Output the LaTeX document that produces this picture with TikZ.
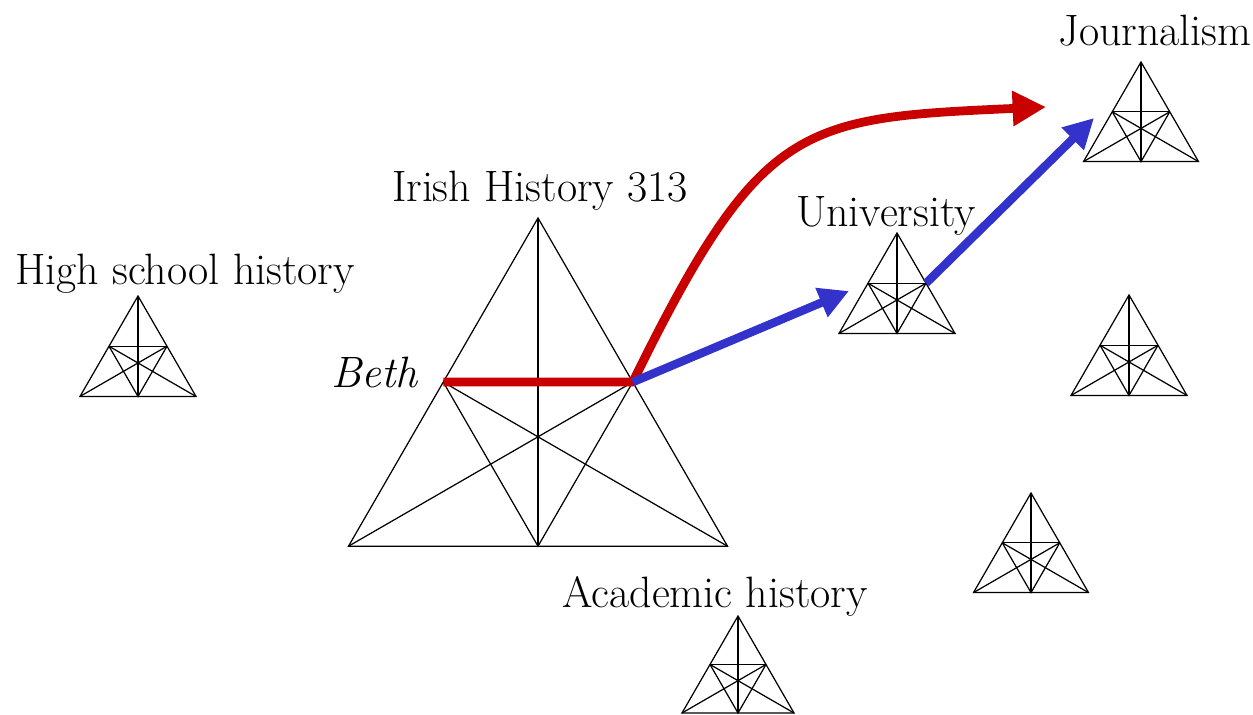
\documentclass[tikz,border=0pt]{standalone}
\usetikzlibrary{arrows.meta}
\definecolor{pathRed}{HTML}{C80000}
\definecolor{pathBlue}{HTML}{3333CC}

\begin{document}
\begin{tikzpicture}[
    x=0.02cm, y=-0.02cm,
    every node/.style={font=\fontsize{25}{30}\selectfont, inner sep=0pt},
    tag/.style={anchor=base},
    mesh/.style={draw=black, line width=0.7pt},
    redpath/.style={draw=pathRed, line width=5pt, line join=round, -{Triangle[length=19pt,width=19pt]}},
    bluepath/.style={draw=pathBlue, line width=4.8pt, -{Triangle[length=17pt,width=17pt]}},
    pics/tri/.style={code={
      \coordinate (-A) at (0,0);
      \coordinate (-L) at (-#1/2,0.866*#1);
      \coordinate (-R) at (#1/2,0.866*#1);
      \coordinate (-M) at (0,0.866*#1);
      \coordinate (-P) at (-#1/4,0.433*#1);
      \coordinate (-Q) at (#1/4,0.433*#1);
      \draw[mesh] (-A) -- (-L) -- (-R) -- cycle;
      \draw[mesh] (-A) -- (-M);
      \draw[mesh] (-P) -- (-Q);
      \draw[mesh] (-P) -- (-M) -- (-Q);
      \draw[mesh] (-L) -- (-Q);
      \draw[mesh] (-R) -- (-P);
    }},
]
  \useasboundingbox (0,0) rectangle (1253,715);
  % fields (apex, side)
  \pic (hs)    at (138,296)  {tri=116};
  \pic (irish) at (538,218)  {tri=379};
  \pic (uni)   at (897,233)  {tri=116};
  \pic (jour)  at (1141,62)  {tri=115};
  \pic (side)  at (1129,295) {tri=116};
  \pic (low)   at (1031,493) {tri=115};
  \pic (acad)  at (738,616)  {tri=112};
  % labels
  \node[tag] (hsLbl)    at (185,285)  {High school history};
  \node[tag] (irishLbl) at (540,202)  {Irish History 313};
  \node[tag] (uniLbl)   at (886,227)  {University};
  \node[tag] (jourLbl)  at (1155,46)  {Journalism};
  \node[tag] (acadLbl)  at (715,607)  {Academic history};
  \node[anchor=base east, font=\fontsize{25}{30}\selectfont\itshape] (beth) at (418,388) {Beth};
  % trajectories
  \coordinate (redEnd) at (1046,107);
  \coordinate (uniIn)  at (849,291);
  \coordinate (jourIn) at (1094,118);
  \draw[redpath] (irish-P) -- (irish-Q) .. controls (761,121) and (800,118) .. (redEnd);
  \draw[bluepath] (irish-Q) -- (uniIn);
  \draw[bluepath] (uni-Q) -- (jourIn);
\end{tikzpicture}
\end{document}
